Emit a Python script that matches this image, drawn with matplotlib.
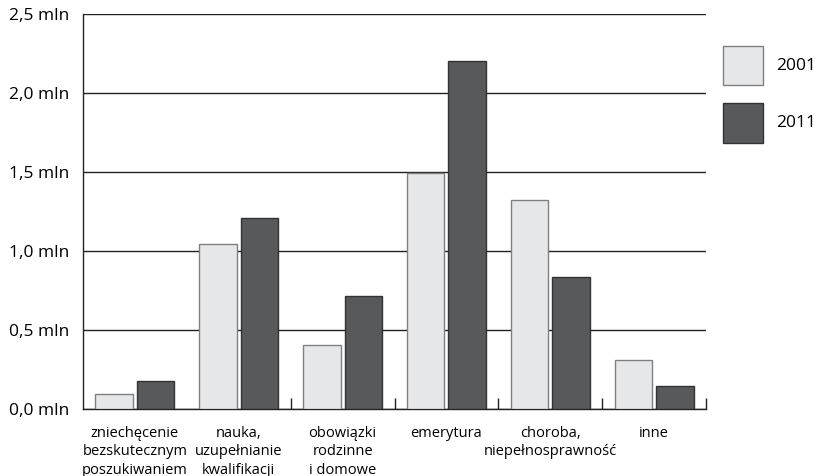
import numpy as np
import matplotlib.pyplot as plt

categories = [
    'zniechęcenie\nbezskutecznym\nposzukiwaniem',
    'nauka,\nuzupełnianie\nkwalifikacji',
    'obowiązki\nrodzinne\ni domowe',
    'emerytura',
    'choroba,\nniepełnosprawność',
    'inne',
]
values_2001 = [0.10, 1.045, 0.41, 1.494, 1.325, 0.312]
values_2011 = [0.177, 1.21, 0.715, 2.206, 0.835, 0.145]
y_ticks = [0.0, 0.5, 1.0, 1.5, 2.0, 2.5]
y_labels = ['0,0 mln', '0,5 mln', '1,0 mln', '1,5 mln', '2,0 mln', '2,5 mln']

plt.rcParams['font.family'] = ['Open Sans', 'DejaVu Sans']

fig = plt.figure(figsize=(8.18, 4.76), dpi=100)
ax = fig.add_axes([83 / 818, 1 - 409.3 / 476, 623 / 818, 395 / 476])

x = np.arange(len(categories))
width = 0.36
ax.bar(x - 0.2, values_2001, width, color='#e6e7e8', edgecolor='#808080',
       linewidth=1.0, zorder=3)
ax.bar(x + 0.2, values_2011, width, color='#58595b', edgecolor='#333333',
       linewidth=1.0, zorder=3)

ax.set_xlim(-0.5, len(categories) - 0.5)
ax.set_ylim(0, 2.5)
ax.set_yticks(y_ticks)
ax.set_yticklabels(y_labels, fontsize=12.5)
ax.tick_params(axis='y', length=0, pad=10)
ax.yaxis.grid(True, color='#222222', linewidth=1.0, zorder=0)

ax.set_xticks(x)
ax.set_xticklabels(categories, fontsize=10.5, linespacing=1.3, va='top')
ax.tick_params(axis='x', which='major', length=0, pad=12)
ax.set_xticks(x[1:] + 0.5, minor=True)
ax.tick_params(axis='x', which='minor', direction='in', length=8,
               width=1.0, color='#222222')

for side in ['top', 'right']:
    ax.spines[side].set_visible(False)
for side in ['left', 'bottom']:
    ax.spines[side].set_color('#222222')
    ax.spines[side].set_linewidth(1.0)

# legend drawn as figure patches
fig.patches.append(plt.Rectangle((722.7 / 818, 1 - 85 / 476), 40.6 / 818, 39 / 476,
                                 transform=fig.transFigure, facecolor='#e6e7e8',
                                 edgecolor='#808080', linewidth=1.0))
fig.patches.append(plt.Rectangle((722.7 / 818, 1 - 143.3 / 476), 40.6 / 818, 40.6 / 476,
                                 transform=fig.transFigure, facecolor='#58595b',
                                 edgecolor='#333333', linewidth=1.0))
fig.text(776 / 818, 1 - 65.5 / 476, '2001', fontsize=12.5, va='center')
fig.text(776 / 818, 1 - 123 / 476, '2011', fontsize=12.5, va='center')

fig.savefig('out.png', dpi=100)
